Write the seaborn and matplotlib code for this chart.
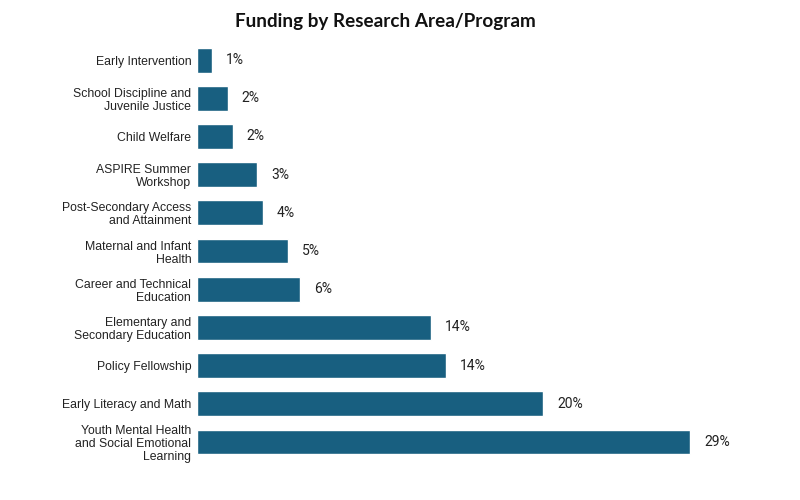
import numpy as np
import pandas as pd
import matplotlib
matplotlib.use("Agg")
import matplotlib.pyplot as plt
import seaborn as sns

# data (top to bottom)
programs = [
    "Early Intervention",
    "School Discipline and\nJuvenile Justice",
    "Child Welfare",
    "ASPIRE Summer\nWorkshop",
    "Post-Secondary Access\nand Attainment",
    "Maternal and Infant\nHealth",
    "Career and Technical\nEducation",
    "Elementary and\nSecondary Education",
    "Policy Fellowship",
    "Early Literacy and Math",
    "Youth Mental Health\nand Social Emotional\nLearning",
]
shares = [0.91, 1.82, 2.12, 3.55, 3.88, 5.38, 6.08, 13.75, 14.67, 20.35, 29.0]
share_labels = ["1%", "2%", "2%", "3%", "4%", "5%", "6%", "14%", "14%", "20%", "29%"]

BAR_COLOR = "#185f80"

df = pd.DataFrame({"program": programs, "share": shares})

sns.set_style("white")

fig = plt.figure(figsize=(8, 5), dpi=100)
ax = fig.add_axes([0.246, 0.078, 0.704, 0.84])

sns.barplot(data=df, x="share", y="program", orient="h", color=BAR_COLOR,
            width=0.65, saturation=1, ax=ax)

for patch, lab in zip(ax.patches, share_labels):
    ax.annotate(lab, (patch.get_width(), patch.get_y() + patch.get_height() / 2),
                xytext=(10, 0), textcoords="offset points", va="center", ha="left",
                fontsize=10, family="Roboto", color="#222222")

ax.set_xlim(0, 33.1)
ax.set_xlabel("")
ax.set_ylabel("")
ax.set_xticks([])
ax.tick_params(axis="y", length=0, pad=4)
for t in ax.get_yticklabels():
    t.set_family("Liberation Sans")
    t.set_fontsize(8.8)
    t.set_color("#222222")
    t.set_linespacing(1.12)
sns.despine(ax=ax, left=True, bottom=True)

fig.text(0.482, 0.958, "Funding by Research Area/Program", ha="center", va="center",
         fontsize=13.6, fontweight="bold", family="Lato", color="#111111")

fig.savefig("out.png", dpi=100)
